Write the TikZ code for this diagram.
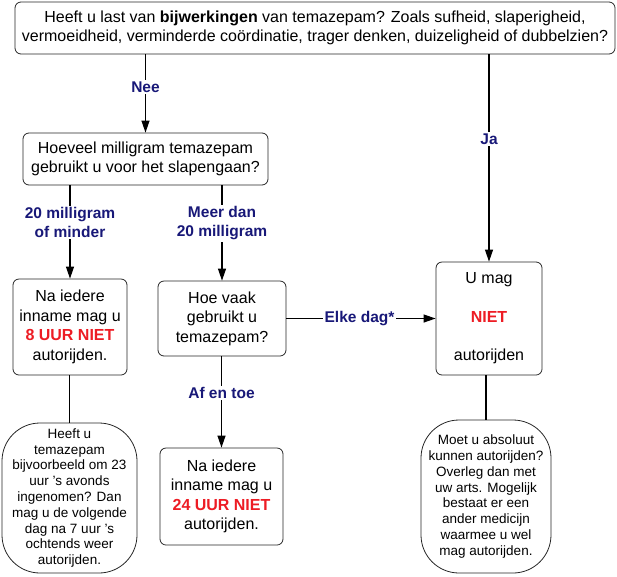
\documentclass[tikz,border=0pt]{standalone}
\usepackage{fontspec}
\setmainfont{Liberation Sans}
\usepackage{xcolor}
\usetikzlibrary{arrows.meta, positioning}

\definecolor{answerblue}{RGB}{24,24,120}
\definecolor{warnred}{RGB}{237,28,36}
\newcommand{\nietrijden}[1]{\textcolor{warnred}{\textbf{#1}}}

\tikzset{
  box/.style={draw=black!85, line width=0.8pt, rounded corners=6pt, align=center, inner sep=0pt,
    font=\fontsize{16}{19.5}\selectfont},
  note/.style={draw=black!85, line width=0.8pt, rounded corners=38pt, align=center, inner sep=0pt,
    font=\fontsize{13.5}{15.8}\selectfont},
  answer/.style={fill=white, inner sep=1.5pt, align=center, text=answerblue,
    font=\bfseries\fontsize{15.5}{19}\selectfont},
  flow/.style={-{Triangle[length=12pt,width=8pt]}, line width=1.1pt},
  link/.style={line width=1.1pt}
}

\begin{document}
\begin{tikzpicture}[x=1pt, y=-1pt]
\useasboundingbox (0,0) rectangle (617,576);

% Questions
\node[box, minimum width=600pt, minimum height=52pt] (bijwerking) at (315,28)
  {Heeft u last van \textbf{bijwerkingen} van temazepam? Zoals sufheid, slaperigheid,\\
   vermoeidheid, verminderde coördinatie, trager denken, duizeligheid of dubbelzien?};
\node[box, minimum width=245pt, minimum height=52pt] (dosis) at (145.5,159)
  {Hoeveel milligram temazepam\\gebruikt u voor het slapengaan?};
\node[box, minimum width=128pt, minimum height=75pt] (hoevaak) at (222,318.5)
  {Hoe vaak\\gebruikt u\\temazepam?};

% Outcomes
\node[box, minimum width=114pt, minimum height=96pt] (achtuur) at (70,327)
  {Na iedere\\inname mag u\\\nietrijden{8 UUR NIET}\\autorijden.};
\node[box, minimum width=123pt, minimum height=97pt] (vieruur) at (221.5,496.5)
  {Na iedere\\inname mag u\\\nietrijden{24 UUR NIET}\\autorijden.};
\node[box, minimum width=106pt, minimum height=113pt] (niet) at (489,318.5)
  {U mag\\[19pt]\nietrijden{NIET}\\[19pt]autorijden};

% Notes
\node[note, minimum width=135pt, minimum height=150pt] (voorbeeld) at (69.5,498)
  {Heeft u\\temazepam\\bijvoorbeeld om 23\\uur ’s avonds\\ingenomen? Dan\\mag u de volgende\\dag na 7 uur ’s\\ochtends weer\\autorijden.};
\node[note, minimum width=130pt, minimum height=153pt] (overleg) at (486,496.5)
  {Moet u absoluut\\kunnen autorijden?\\Overleg dan met\\uw arts. Mogelijk\\bestaat er een\\ander medicijn\\waarmee u wel\\mag autorijden.};

% Connectors
\draw[flow] (bijwerking.south -| dosis.north) -- node[answer, pos=0.42] {Nee} (dosis.north);
\draw[flow] (bijwerking.south -| niet.north) -- node[answer, pos=0.41] {Ja} (niet.north);
\draw[flow] (dosis.south -| achtuur.north) -- node[answer, pos=0.4] {20 milligram\\of minder} (achtuur.north);
\draw[flow] (dosis.south -| hoevaak.north) -- node[answer, pos=0.4] {Meer dan\\20 milligram} (hoevaak.north);
\draw[flow] (hoevaak) -- node[answer, pos=0.49] {Elke dag*} (niet);
\draw[flow] (hoevaak.south -| vieruur.north) -- node[answer, pos=0.4] {Af en toe} (vieruur.north);
\draw[link] (achtuur.south -| voorbeeld.north) -- (voorbeeld.north);
\draw[link] (niet.south -| overleg.north) -- (overleg.north);
\end{tikzpicture}
\end{document}
